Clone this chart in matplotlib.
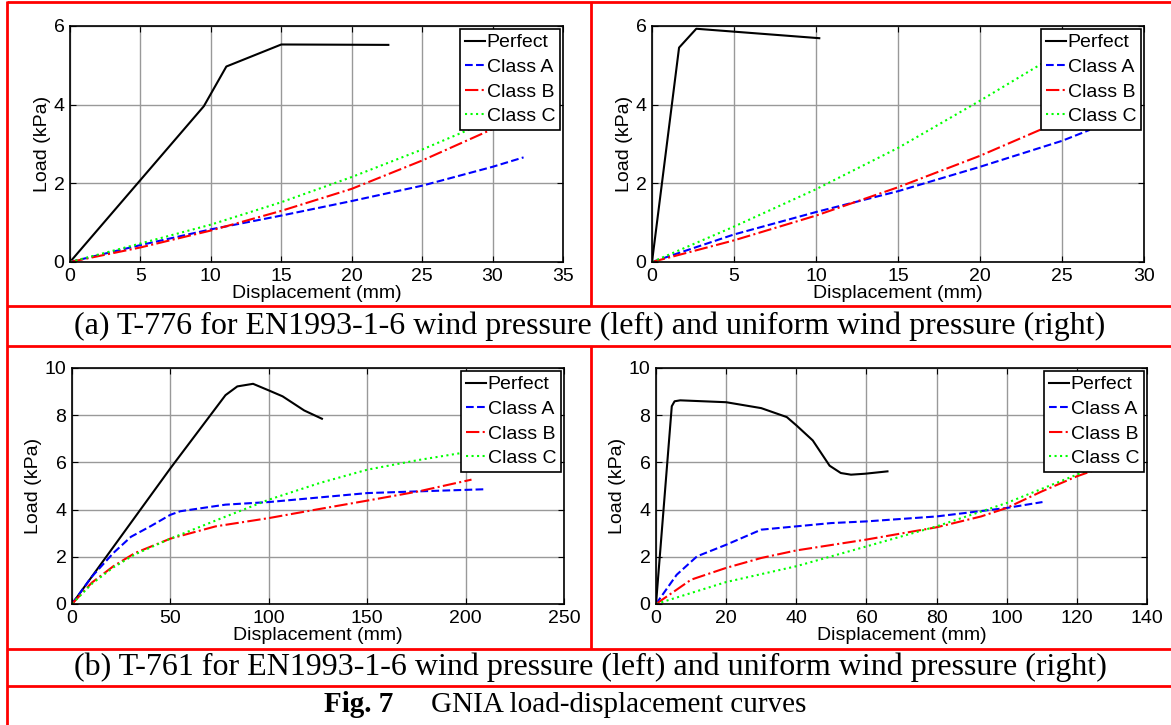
# GNIA load-displacement curves (Fig. 7), four panels in a red-ruled table
import matplotlib
matplotlib.use('Agg')
import matplotlib.pyplot as plt

# ---------------------------------------------------------------
# Data
# (a) T-776, EN1993-1-6 wind pressure
a_left_perfect_x = [0, 9.5, 11.1, 15, 22.6]
a_left_perfect_y = [0, 3.96, 4.97, 5.53, 5.52]
a_left_A_x = [0, 5, 10, 15, 20, 25, 30, 32.2]
a_left_A_y = [0, 0.43, 0.83, 1.18, 1.55, 1.94, 2.42, 2.66]
a_left_B_x = [0, 5, 10, 15, 20, 25, 30, 32.5]
a_left_B_y = [0, 0.37, 0.8, 1.3, 1.86, 2.58, 3.38, 3.75]
a_left_C_x = [0, 5, 10, 15, 20, 25, 30, 32.5]
a_left_C_y = [0, 0.47, 0.95, 1.52, 2.16, 2.86, 3.62, 4.02]

# (a) T-776, uniform wind pressure
a_right_perfect_x = [0, 1.65, 2.7, 10.2]
a_right_perfect_y = [0, 5.45, 5.93, 5.69]
a_right_A_x = [0, 5, 10, 15, 20, 25, 26.7]
a_right_A_y = [0, 0.7, 1.27, 1.8, 2.42, 3.08, 3.36]
a_right_B_x = [0, 5, 10, 15, 20, 25, 27.5]
a_right_B_y = [0, 0.55, 1.18, 1.9, 2.7, 3.6, 4.05]
a_right_C_x = [0, 5, 10, 15, 20, 24, 27]
a_right_C_y = [0, 0.9, 1.85, 2.9, 4.1, 5.1, 5.85]

# (b) T-761, EN1993-1-6 wind pressure
b_left_perfect_x = [0, 50, 78, 84, 92, 100, 107, 118, 127]
b_left_perfect_y = [0, 5.75, 8.85, 9.22, 9.33, 9.05, 8.8, 8.2, 7.85]
b_left_A_x = [0, 10, 21, 30, 40, 50, 55, 78, 100, 150, 175, 209]
b_left_A_y = [0, 1.15, 2.16, 2.85, 3.3, 3.78, 3.93, 4.21, 4.32, 4.7, 4.77, 4.86]
b_left_B_x = [0, 10, 21, 32, 50, 73, 100, 124, 150, 176, 203]
b_left_B_y = [0, 0.9, 1.6, 2.16, 2.77, 3.29, 3.64, 4.0, 4.38, 4.77, 5.27]
b_left_C_x = [0, 10, 21, 32, 50, 74, 100, 126, 150, 176, 198, 206]
b_left_C_y = [0, 0.85, 1.55, 2.1, 2.77, 3.57, 4.42, 5.13, 5.69, 6.1, 6.4, 6.47]

# (b) T-761, uniform wind pressure
b_right_perfect_x = [0, 4.5, 5.3, 6.9, 20, 30, 37.3, 40.1, 44.7, 49.5, 52.7, 55.6, 59.6, 66]
b_right_perfect_y = [0, 8.38, 8.59, 8.63, 8.55, 8.3, 7.92, 7.56, 6.93, 5.86, 5.55, 5.48, 5.52, 5.62]
b_right_A_x = [0, 5.9, 11.7, 20, 30, 40, 50, 60, 80, 100, 110.2]
b_right_A_y = [0, 1.24, 2.02, 2.51, 3.15, 3.29, 3.43, 3.5, 3.71, 4.07, 4.32]
b_right_B_x = [0, 10, 20, 30, 40, 60, 80, 92.7, 100, 110, 120, 126.7, 132]
b_right_B_y = [0, 1.03, 1.53, 1.95, 2.27, 2.73, 3.25, 3.71, 4.07, 4.77, 5.41, 5.76, 6.1]
b_right_C_x = [0, 20, 40, 60, 80, 100, 120, 128]
b_right_C_y = [0, 0.93, 1.6, 2.44, 3.29, 4.28, 5.48, 5.95]

series_labels = ['Perfect', 'Class A', 'Class B', 'Class C']
x_ticks_a_left = [0, 5, 10, 15, 20, 25, 30, 35]
x_ticks_a_right = [0, 5, 10, 15, 20, 25, 30]
x_ticks_b_left = [0, 50, 100, 150, 200, 250]
x_ticks_b_right = [0, 20, 40, 60, 80, 100, 120, 140]
y_ticks_a = [0, 2, 4, 6]
y_ticks_b = [0, 2, 4, 6, 8, 10]

caption_a = '(a) T-776 for EN1993-1-6 wind pressure (left) and uniform wind pressure (right)'
caption_b = '(b) T-761 for EN1993-1-6 wind pressure (left) and uniform wind pressure (right)'

# ---------------------------------------------------------------
plt.rcParams['font.family'] = ['Liberation Sans', 'DejaVu Sans']
W, H = 1171, 725
fig = plt.figure(figsize=(W / 100, H / 100), dpi=100)
fig.patch.set_facecolor('white')

# overlay in pixel coordinates for the table rules and captions
frame = fig.add_axes([0, 0, 1, 1], zorder=0)
frame.set_xlim(0, W)
frame.set_ylim(H, 0)
frame.axis('off')
red = dict(color='red', lw=2.0, solid_capstyle='butt')
for yy in [2, 306, 346, 649, 686]:
    frame.plot([7, W], [yy, yy], **red)
frame.plot([7.3, 7.3], [1, H], **red)
frame.plot([591, 591], [2, 306], **red)
frame.plot([591, 591], [346, 649], **red)

serif = ['Liberation Serif', 'DejaVu Serif']
frame.text(590, 326, caption_a, family=serif, fontsize=23, ha='center', va='center')
frame.text(590, 667, caption_b, family=serif, fontsize=23, ha='center', va='center')
frame.text(393, 705, 'Fig. 7', family=serif, fontsize=21, fontweight='bold',
           ha='right', va='center')
frame.text(431, 705, 'GNIA load-displacement curves', family=serif, fontsize=21,
           ha='left', va='center')


def px_axes(l, r, t, b):
    return fig.add_axes([l / W, 1 - b / H, (r - l) / W, (b - t) / H], zorder=2)


def draw_panel(ax, curves, xmax, ymax, xticks, yticks):
    styles = [dict(color='black', ls='-'),
              dict(color='blue', ls='--'),
              dict(color='red', ls='-.'),
              dict(color=(0, 1, 0), ls=':')]
    for (xs, ys), st, lab in zip(curves, styles, series_labels):
        ax.plot(xs, ys, lw=1.5, label=lab, **st)
    ax.set_xlim(0, xmax)
    ax.set_ylim(0, ymax)
    ax.set_xticks(xticks)
    ax.set_yticks(yticks)
    ax.grid(True, color='0.6', lw=1.0)
    ax.set_axisbelow(True)
    ax.tick_params(direction='in', top=True, right=True, length=4,
                   labelsize=14, pad=4)
    for sp in ax.spines.values():
        sp.set_linewidth(1.2)
    ax.set_xlabel('Displacement (mm)', fontsize=14, labelpad=0)
    ax.set_ylabel('Load (kPa)', fontsize=14, labelpad=2)
    leg = ax.legend(loc='upper right', fontsize=14, fancybox=False,
                    edgecolor='black', framealpha=1, handlelength=1.0,
                    handletextpad=0.1, labelspacing=0.36, borderpad=0.25,
                    borderaxespad=0.15)
    leg.get_frame().set_linewidth(1.2)


ax1 = px_axes(70, 563, 26, 262)
draw_panel(ax1, [(a_left_perfect_x, a_left_perfect_y), (a_left_A_x, a_left_A_y),
                 (a_left_B_x, a_left_B_y), (a_left_C_x, a_left_C_y)],
           35, 6, x_ticks_a_left, y_ticks_a)

ax2 = px_axes(652, 1144, 26, 262)
draw_panel(ax2, [(a_right_perfect_x, a_right_perfect_y), (a_right_A_x, a_right_A_y),
                 (a_right_B_x, a_right_B_y), (a_right_C_x, a_right_C_y)],
           30, 6, x_ticks_a_right, y_ticks_a)

ax3 = px_axes(72, 564, 368, 604)
draw_panel(ax3, [(b_left_perfect_x, b_left_perfect_y), (b_left_A_x, b_left_A_y),
                 (b_left_B_x, b_left_B_y), (b_left_C_x, b_left_C_y)],
           250, 10, x_ticks_b_left, y_ticks_b)

ax4 = px_axes(656, 1147, 368, 604)
draw_panel(ax4, [(b_right_perfect_x, b_right_perfect_y), (b_right_A_x, b_right_A_y),
                 (b_right_B_x, b_right_B_y), (b_right_C_x, b_right_C_y)],
           140, 10, x_ticks_b_right, y_ticks_b)

fig.savefig('out.png', dpi=100)
